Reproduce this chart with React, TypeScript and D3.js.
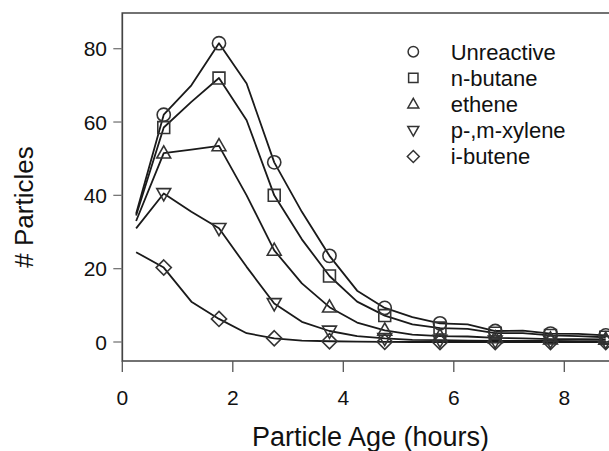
import React from "react";
import * as d3 from "d3";

const hours = [0.25, 0.75, 1.25, 1.75, 2.25, 2.75, 3.25, 3.75, 4.25, 4.75, 5.25, 5.75, 6.25, 6.75, 7.25, 7.75, 8.25, 8.75];
const unreactive = [35, 62, 70, 81.5, 70.5, 49, 35.5, 23.5, 14, 9.3, 6.8, 5.1, 4.8, 3, 3.1, 2.3, 2.2, 1.8];
const nButane = [34.5, 58.5, 65.5, 72, 60.5, 40, 28, 18, 11, 7.2, 4.8, 3.8, 3.6, 2.4, 2.4, 1.8, 1.6, 1.3];
const ethene = [33, 51.5, 52.5, 53.5, 40, 25, 16, 9.5, 5.3, 3.2, 2, 1.6, 1.5, 1.1, 1.0, 0.8, 0.8, 0.7];
const xylene = [31, 40.5, 35.5, 31, 20.5, 10.5, 5.5, 3, 1.6, 1, 0.6, 0.5, 0.4, 0.3, 0.3, 0.3, 0.2, 0.2];
const iButene = [24.5, 20.3, 11, 6.3, 2.4, 1, 0.4, 0.2, 0.1, 0.05, 0, 0, 0, 0, 0, 0, 0, 0];

const seriesNames = ["Unreactive", "n-butane", "ethene", "p-,m-xylene", "i-butene"];
const seriesShapes = ["circle", "square", "triangle", "triangleDown", "diamond"];
const seriesValues = [unreactive, nButane, ethene, xylene, iButene];

const xTicks = [0, 2, 4, 6, 8];
const yTicks = [0, 20, 40, 60, 80];

const W = 609;
const H = 451;

function shapePath(shape: string, cx: number, cy: number, s: number): string {
  switch (shape) {
    case "circle":
      return `M${cx - s},${cy}a${s},${s} 0 1,0 ${2 * s},0a${s},${s} 0 1,0 ${-2 * s},0Z`;
    case "square": {
      const h = s * 0.9;
      return `M${cx - h},${cy - h}H${cx + h}V${cy + h}H${cx - h}Z`;
    }
    case "triangle": {
      const h = s * 1.05;
      return `M${cx},${cy - h * 1.05}L${cx + h},${cy + h * 0.7}L${cx - h},${cy + h * 0.7}Z`;
    }
    case "triangleDown": {
      const h = s * 1.05;
      return `M${cx},${cy + h * 1.05}L${cx + h},${cy - h * 0.7}L${cx - h},${cy - h * 0.7}Z`;
    }
    case "diamond": {
      const h = s * 1.15;
      return `M${cx},${cy - h}L${cx + h},${cy}L${cx},${cy + h}L${cx - h},${cy}Z`;
    }
  }
  return "";
}

export default function App() {
  const x = d3.scaleLinear().domain([0, 8]).range([122.3, 564.3]);
  const y = d3.scaleLinear().domain([0, 80]).range([342, 48.7]);

  const left = x(0);
  const top = 13;
  const bottom = 361;

  const line = d3
    .line<number>()
    .x((_, i) => x(hours[i]))
    .y((d) => y(d))
    .curve(d3.curveLinear);

  const font = "'Liberation Sans', Arial, Helvetica, sans-serif";
  const dark = "#1a1a1a";

  return (
    <svg
      width={W}
      height={H}
      viewBox={`0 0 ${W} ${H}`}
      style={{ position: "fixed", left: 0, top: 0, background: "#fff" }}
      fontFamily={font}
    >
      <rect x={0} y={0} width={W} height={H} fill="#fff" />
      {/* plot box (right side runs past the edge) */}
      <path
        d={`M${W + 5},${top}H${left}V${bottom}H${W + 5}`}
        fill="none"
        stroke="#444"
        strokeWidth={1.7}
      />
      {/* y ticks */}
      {yTicks.map((t) => (
        <g key={"y" + t}>
          <line x1={left - 9} x2={left} y1={y(t)} y2={y(t)} stroke="#777" strokeWidth={1.3} />
          <text x={107} y={y(t)} dy="0.36em" textAnchor="end" fontSize={21} fill="#111">
            {t}
          </text>
        </g>
      ))}
      {/* x ticks */}
      {xTicks.map((t) => (
        <g key={"x" + t}>
          <line x1={x(t)} x2={x(t)} y1={bottom} y2={bottom + 11} stroke="#555" strokeWidth={1.3} />
          <text x={x(t)} y={405} textAnchor="middle" fontSize={21} fill="#111">
            {t}
          </text>
        </g>
      ))}
      <text x={370.5} y={446} textAnchor="middle" fontSize={27} fill="#111">
        Particle Age (hours)
      </text>
      <text
        transform={`translate(33,207) rotate(-90)`}
        textAnchor="middle"
        fontSize={26}
        fill="#111"
      >
        # Particles
      </text>

      {/* series lines */}
      {seriesValues.map((vals, si) => (
        <path key={"l" + si} d={line(vals) || ""} fill="none" stroke={dark} strokeWidth={1.8} strokeLinejoin="round" />
      ))}
      {/* markers at whole-hour offsets */}
      {seriesValues.map((vals, si) =>
        vals.map((v, i) =>
          i % 2 === 1 ? (
            <path
              key={`m${si}-${i}`}
              d={shapePath(seriesShapes[si], x(hours[i]), y(v), 6.6)}
              fill="none"
              stroke="#333"
              strokeWidth={1.6}
            />
          ) : null
        )
      )}

      {/* legend */}
      {seriesNames.map((name, i) => {
        const ly = 51.7 + i * 26.2;
        return (
          <g key={"lg" + i}>
            <path d={shapePath(seriesShapes[i], 413.3, ly, 5.2)} fill="none" stroke="#333" strokeWidth={1.5} />
            <text x={450.7} y={ly} dy="0.36em" fontSize={22} fill="#111">
              {name}
            </text>
          </g>
        );
      })}
    </svg>
  );
}
